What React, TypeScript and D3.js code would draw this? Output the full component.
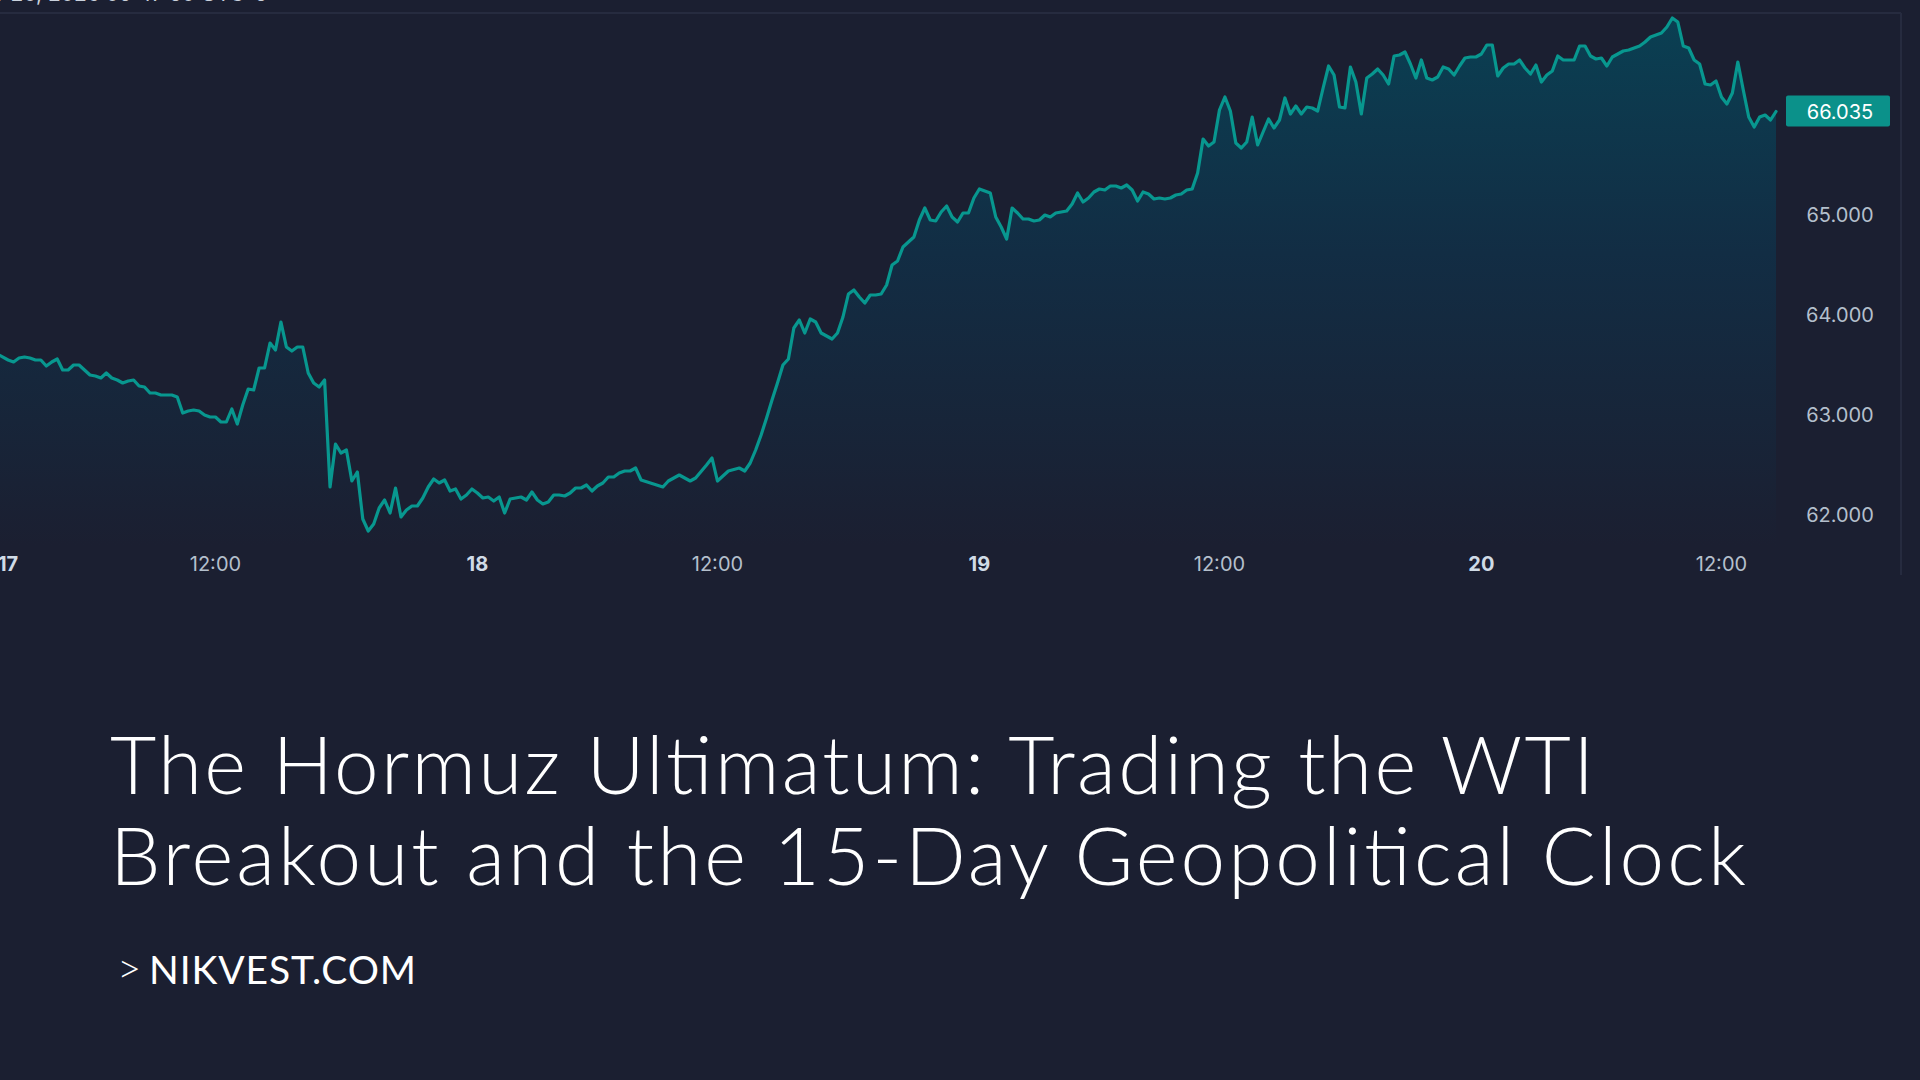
import React from "react";
import * as d3 from "d3";

const W = 1920;
const H = 1080;

// WTI crude, 15-minute bars: [bar index, price]
const series: [number, number][] = [
  [0, 63.61], [2, 63.55], [3, 63.53], [4, 63.57], [5, 63.58], [6, 63.57], [7, 63.55], [8, 63.55],
  [9, 63.49], [10, 63.53], [11, 63.56], [12, 63.45], [13, 63.45], [14, 63.5], [15, 63.5], [16, 63.45],
  [17, 63.4], [18, 63.39], [19, 63.37], [20, 63.42], [21, 63.37], [22, 63.35], [23, 63.32], [24, 63.34],
  [25, 63.35], [26, 63.29], [27, 63.28], [28, 63.22], [29, 63.22], [30, 63.2], [31, 63.2], [32, 63.2],
  [33, 63.18], [34, 63.02], [35, 63.04], [36, 63.05], [37, 63.04], [38, 63.0], [39, 62.98], [40, 62.98],
  [41, 62.93], [42, 62.93], [43, 63.06], [44, 62.91], [45, 63.1], [46, 63.26], [47, 63.25], [48, 63.47],
  [49, 63.47], [50, 63.72], [51, 63.65], [52, 63.93], [53, 63.68], [54, 63.64], [55, 63.68], [56, 63.68],
  [57, 63.42], [58, 63.32], [59, 63.28], [60, 63.35], [61, 62.28], [62, 62.71], [63, 62.62], [64, 62.65],
  [65, 62.34], [66, 62.43], [67, 61.96], [68, 61.84], [69, 61.91], [70, 62.07], [71, 62.15], [72, 62.02],
  [73, 62.27], [74, 61.98], [75, 62.05], [76, 62.09], [77, 62.09], [78, 62.17], [79, 62.28], [80, 62.36],
  [81, 62.32], [82, 62.35], [83, 62.24], [84, 62.26], [85, 62.16], [86, 62.2], [87, 62.26], [88, 62.22],
  [89, 62.17], [90, 62.18], [91, 62.14], [92, 62.18], [93, 62.02], [94, 62.16], [95, 62.17], [96, 62.18],
  [97, 62.15], [98, 62.23], [99, 62.15], [100, 62.11], [101, 62.13], [102, 62.2], [103, 62.2], [104, 62.19],
  [105, 62.22], [106, 62.27], [107, 62.27], [108, 62.3], [109, 62.24], [110, 62.29], [111, 62.32], [112, 62.38],
  [113, 62.38], [114, 62.42], [115, 62.44], [116, 62.44], [117, 62.47], [118, 62.35], [122, 62.28], [123, 62.34],
  [125, 62.4], [127, 62.34], [128, 62.37], [130, 62.5], [131, 62.57], [132, 62.34], [134, 62.44], [136, 62.47],
  [137, 62.44], [138, 62.52], [139, 62.65], [140, 62.8], [141, 62.97], [142, 63.15], [143, 63.32], [144, 63.5],
  [145, 63.56], [146, 63.87], [147, 63.95], [148, 63.82], [149, 63.96], [150, 63.93], [151, 63.82], [152, 63.79],
  [153, 63.76], [154, 63.82], [155, 63.98], [156, 64.21], [157, 64.25], [158, 64.18], [159, 64.12], [160, 64.2],
  [161, 64.2], [162, 64.21], [163, 64.3], [164, 64.5], [165, 64.54], [166, 64.68], [167, 64.73], [168, 64.78],
  [169, 64.95], [170, 65.07], [171, 64.95], [172, 64.94], [173, 65.03], [174, 65.09], [175, 64.98], [176, 64.93],
  [177, 65.02], [178, 65.02], [179, 65.17], [180, 65.26], [181, 65.24], [182, 65.22], [183, 64.98], [184, 64.88],
  [185, 64.76], [186, 65.07], [187, 65.02], [188, 64.96], [189, 64.96], [190, 64.94], [191, 64.95], [192, 65.0],
  [193, 64.98], [194, 65.02], [195, 65.03], [196, 65.04], [197, 65.11], [198, 65.22], [199, 65.13], [200, 65.17],
  [201, 65.23], [202, 65.26], [203, 65.25], [204, 65.29], [205, 65.29], [206, 65.27], [207, 65.3], [208, 65.25],
  [209, 65.14], [210, 65.23], [211, 65.21], [212, 65.16], [213, 65.17], [214, 65.16], [215, 65.17], [216, 65.2],
  [217, 65.21], [218, 65.25], [219, 65.26], [220, 65.42], [221, 65.76], [222, 65.69], [223, 65.73], [224, 66.05],
  [225, 66.18], [226, 66.04], [227, 65.72], [228, 65.67], [229, 65.73], [230, 65.98], [231, 65.7], [232, 65.83],
  [233, 65.96], [234, 65.87], [235, 65.95], [236, 66.17], [237, 66.01], [238, 66.09], [239, 66.01], [240, 66.08],
  [241, 66.07], [242, 66.04], [243, 66.27], [244, 66.49], [245, 66.4], [246, 66.08], [247, 66.07], [248, 66.48],
  [249, 66.33], [250, 66.01], [251, 66.37], [252, 66.41], [253, 66.46], [254, 66.4], [255, 66.31], [256, 66.59],
  [257, 66.6], [258, 66.63], [259, 66.51], [260, 66.37], [261, 66.55], [262, 66.37], [263, 66.35], [264, 66.38],
  [265, 66.48], [266, 66.46], [267, 66.4], [268, 66.49], [269, 66.57], [270, 66.58], [271, 66.58], [272, 66.61],
  [273, 66.7], [274, 66.7], [275, 66.39], [276, 66.47], [277, 66.51], [278, 66.51], [279, 66.55], [280, 66.47],
  [281, 66.41], [282, 66.5], [283, 66.33], [284, 66.4], [285, 66.44], [286, 66.59], [287, 66.55], [288, 66.55],
  [289, 66.55], [290, 66.69], [291, 66.69], [292, 66.59], [293, 66.56], [294, 66.57], [295, 66.49], [296, 66.58],
  [297, 66.61], [298, 66.64], [299, 66.65], [300, 66.67], [301, 66.69], [302, 66.73], [303, 66.78], [304, 66.8],
  [305, 66.82], [306, 66.88], [307, 66.97], [308, 66.93], [309, 66.69], [310, 66.67], [311, 66.55], [312, 66.51],
  [313, 66.31], [314, 66.3], [315, 66.34], [316, 66.18], [317, 66.11], [318, 66.22], [319, 66.53], [320, 66.25],
  [321, 65.98], [322, 65.88], [323, 65.98], [324, 66.0], [325, 65.95], [326, 66.035],
];

// Price scale ticks
const priceTicks = [62, 63, 64, 65];

// Time scale ticks (bar index of each label)
const timeTickBars = [2, 40, 88, 132, 180, 224, 272, 316];
const timeTickLabels = ["17", "12:00", "18", "12:00", "19", "12:00", "20", "12:00"];
const timeTickIsDay = [true, false, true, false, true, false, true, false];

const headerStamp = "Mar 20, 2026 09:47:50 UTC-5";
const titleLines = [
  "The Hormuz Ultimatum: Trading the WTI",
  "Breakout and the 15-Day Geopolitical Clock",
];
const titleWidths = [1484, 1636];
const siteLabel = "NIKVEST.COM";

const BG = "#1b1f31";
const GRID = "#262b3f";
const TEAL = "#08978f";
const AXIS_TEXT = "#b4bfcc";
const AXIS_FONT = "Inter, Roboto, 'Noto Sans', sans-serif";
const TITLE_FONT = "Lato, 'Open Sans', sans-serif";

export default function App() {
  const lastBar = d3.max(series, (d) => d[0]) as number;
  const barWidth = 5.4565;
  const x = d3
    .scaleLinear()
    .domain([0, lastBar])
    .range([-2.8, -2.8 + lastBar * barWidth]);
  const y = d3.scaleLinear().domain([62, 66]).range([515, 115]);

  const paneTop = 13;
  const paneBottom = 545;
  const paneRight = 1901;
  const priceAxisCenter = 1840;

  const line = d3
    .line<[number, number]>()
    .x((d) => x(d[0]))
    .y((d) => y(d[1]));
  const area = d3
    .area<[number, number]>()
    .x((d) => x(d[0]))
    .y0(paneBottom)
    .y1((d) => y(d[1]));

  const last = series[series.length - 1];
  const fmt = d3.format(".3f");

  return (
    <svg
      width={W}
      height={H}
      viewBox={`0 0 ${W} ${H}`}
      style={{ position: "absolute", left: 0, top: 0, display: "block" }}
    >
      <defs>
        <linearGradient id="areaFill" gradientUnits="userSpaceOnUse" x1="0" y1={paneTop} x2="0" y2={paneBottom}>
          <stop offset="0%" stopColor="#0a4053" />
          <stop offset="45%" stopColor="#122d44" />
          <stop offset="100%" stopColor={BG} />
        </linearGradient>
        <clipPath id="pane">
          <rect x={0} y={paneTop} width={paneRight} height={paneBottom - paneTop} />
        </clipPath>
      </defs>

      <rect x={0} y={0} width={W} height={H} fill={BG} />

      {/* timestamp strip above the pane */}
      <text x={-34} y={1} fontFamily={AXIS_FONT} fontSize={21} fill="#c9d1dc">
        {headerStamp}
      </text>

      {/* pane frame */}
      <line x1={0} x2={paneRight} y1={paneTop} y2={paneTop} stroke={GRID} strokeWidth={2} />
      <line x1={paneRight} x2={paneRight} y1={paneTop} y2={575} stroke={GRID} strokeWidth={2} />

      <g clipPath="url(#pane)">
        <path d={area(series) ?? ""} fill="url(#areaFill)" />
        <path
          d={line(series) ?? ""}
          fill="none"
          stroke={TEAL}
          strokeWidth={3.2}
          strokeLinejoin="round"
          strokeLinecap="round"
        />
      </g>

      {/* price axis */}
      <g fontFamily={AXIS_FONT} fontSize={20} fill={AXIS_TEXT} textAnchor="middle">
        {priceTicks.map((t) => (
          <text key={t} x={priceAxisCenter} y={y(t)} dominantBaseline="central">
            {fmt(t)}
          </text>
        ))}
      </g>

      {/* last price marker */}
      <rect x={1786} y={y(last[1]) - 16} width={104} height={31} rx={2} fill="#0b918a" />
      <text
        x={priceAxisCenter}
        y={y(last[1])}
        dominantBaseline="central"
        textAnchor="middle"
        fontFamily={AXIS_FONT}
        fontSize={20}
        fill="#ffffff"
      >
        {fmt(last[1])}
      </text>

      {/* time axis */}
      <g fontFamily={AXIS_FONT} fontSize={20} textAnchor="middle">
        {timeTickBars.map((b, i) => (
          <text
            key={i}
            x={x(b)}
            y={564}
            dominantBaseline="central"
            fill={timeTickIsDay[i] ? "#d0dbe6" : AXIS_TEXT}
            fontWeight={timeTickIsDay[i] ? 700 : 400}
          >
            {timeTickLabels[i]}
          </text>
        ))}
      </g>

      {/* headline */}
      <g fontFamily={TITLE_FONT} fontWeight={300} fontSize={80} fill="#ffffff">
        {titleLines.map((t, i) => (
          <text key={i} x={110} y={794 + i * 91} textLength={titleWidths[i]} lengthAdjust="spacing">
            {t}
          </text>
        ))}
      </g>

      <g fontFamily={TITLE_FONT} fill="#ffffff">
        <text x={117} y={983} fontSize={42} fontWeight={300}>
          {">"}
        </text>
        <text x={149} y={984} fontSize={39} fontWeight={400} textLength={267} lengthAdjust="spacing">
          {siteLabel}
        </text>
      </g>
    </svg>
  );
}
